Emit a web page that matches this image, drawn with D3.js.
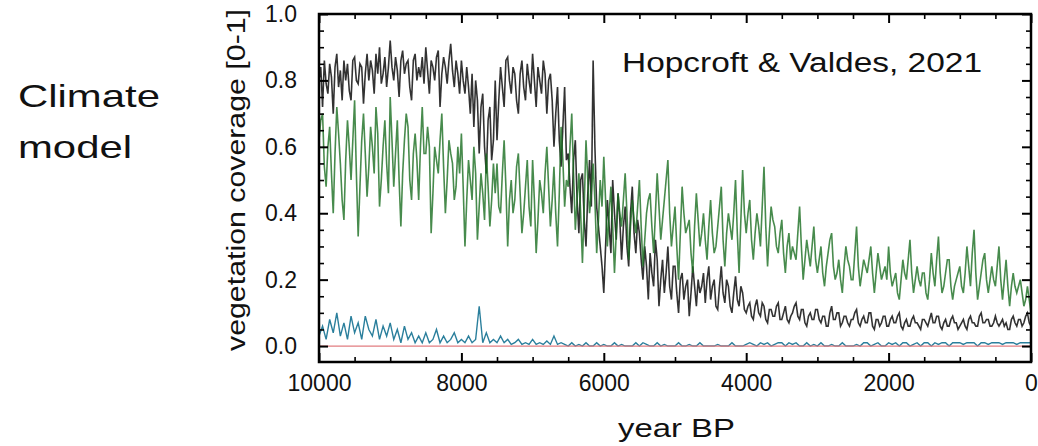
<!DOCTYPE html>
<html>
<head>
<meta charset="utf-8">
<script src="https://cdn.jsdelivr.net/npm/d3@7"></script>
<style>
  body { margin: 0; background: #fff; }
  svg { display: block; }
  text { font-family: "Liberation Sans", Arial, sans-serif; fill: #111; }
</style>
</head>
<body>
<svg width="1038" height="446"></svg>
<script>
var w = 1038;
var h = 446;

// black and green model output every 25 yr, blue every 50 yr (year BP, 10000 -> 0)
var yearsFine = d3.range(10000, -1, -25);
var yearsCoarse = d3.range(10000, -1, -50);

// black curve
var blackVals = [
  0.80, 0.84, 0.72, 0.86, 0.79, 0.76, 0.85, 0.81, 0.70, 0.84, 0.88, 0.78, 0.83, 0.74, 0.86, 0.80, 0.85, 0.77, 0.74, 0.86,
  0.87, 0.80, 0.79, 0.85, 0.84, 0.73, 0.82, 0.88, 0.80, 0.86, 0.83, 0.76, 0.88, 0.82, 0.90, 0.79, 0.82, 0.87, 0.78, 0.84,
  0.92, 0.84, 0.80, 0.87, 0.83, 0.75, 0.86, 0.89, 0.82, 0.85, 0.86, 0.78, 0.74, 0.86, 0.88, 0.80, 0.84, 0.81, 0.87, 0.79,
  0.90, 0.83, 0.76, 0.86, 0.84, 0.80, 0.87, 0.89, 0.72, 0.82, 0.87, 0.84, 0.79, 0.86, 0.91, 0.83, 0.78, 0.86, 0.82, 0.76,
  0.86, 0.80, 0.76, 0.84, 0.78, 0.70, 0.82, 0.66, 0.80, 0.74, 0.58, 0.72, 0.76, 0.60, 0.52, 0.68, 0.72, 0.56, 0.62, 0.80,
  0.62, 0.74, 0.84, 0.78, 0.72, 0.86, 0.87, 0.80, 0.76, 0.84, 0.82, 0.74, 0.70, 0.82, 0.86, 0.78, 0.74, 0.85, 0.80, 0.76,
  0.88, 0.80, 0.72, 0.84, 0.80, 0.76, 0.86, 0.82, 0.70, 0.80, 0.82, 0.74, 0.60, 0.70, 0.78, 0.62, 0.54, 0.66, 0.78, 0.56,
  0.58, 0.48, 0.40, 0.56, 0.62, 0.44, 0.34, 0.50, 0.52, 0.38, 0.30, 0.46, 0.56, 0.42, 0.86, 0.60, 0.42, 0.36, 0.30, 0.24,
  0.16, 0.30, 0.44, 0.36, 0.28, 0.50, 0.40, 0.32, 0.46, 0.38, 0.26, 0.36, 0.42, 0.30, 0.24, 0.40, 0.48, 0.34, 0.28, 0.38,
  0.34, 0.26, 0.20, 0.30, 0.24, 0.14, 0.28, 0.22, 0.18, 0.32, 0.26, 0.12, 0.20, 0.26, 0.16, 0.22, 0.30, 0.18, 0.14, 0.24,
  0.24, 0.16, 0.10, 0.20, 0.22, 0.14, 0.18, 0.20, 0.09, 0.16, 0.24, 0.18, 0.12, 0.20, 0.16, 0.18, 0.22, 0.13, 0.20, 0.24,
  0.14, 0.18, 0.20, 0.12, 0.11, 0.18, 0.24, 0.16, 0.13, 0.20, 0.18, 0.12, 0.10, 0.16, 0.21, 0.14, 0.12, 0.18, 0.16, 0.11,
  0.10, 0.12, 0.13, 0.09, 0.08, 0.12, 0.14, 0.10, 0.09, 0.13, 0.12, 0.08, 0.07, 0.11, 0.11, 0.09, 0.09, 0.12, 0.13, 0.08,
  0.08, 0.10, 0.12, 0.08, 0.07, 0.09, 0.10, 0.12, 0.13, 0.09, 0.08, 0.11, 0.11, 0.07, 0.06, 0.09, 0.10, 0.08, 0.08, 0.11,
  0.11, 0.08, 0.07, 0.09, 0.09, 0.06, 0.06, 0.10, 0.12, 0.08, 0.08, 0.10, 0.10, 0.06, 0.07, 0.09, 0.09, 0.07, 0.06, 0.08,
  0.08, 0.10, 0.11, 0.07, 0.06, 0.08, 0.09, 0.07, 0.07, 0.10, 0.10, 0.06, 0.05, 0.08, 0.08, 0.06, 0.07, 0.09, 0.09, 0.06,
  0.06, 0.08, 0.09, 0.07, 0.07, 0.09, 0.10, 0.06, 0.05, 0.07, 0.08, 0.06, 0.06, 0.08, 0.09, 0.07, 0.07, 0.06, 0.05, 0.08,
  0.08, 0.07, 0.06, 0.08, 0.10, 0.07, 0.07, 0.09, 0.09, 0.06, 0.05, 0.07, 0.08, 0.06, 0.06, 0.08, 0.09, 0.07, 0.07, 0.05,
  0.06, 0.07, 0.08, 0.06, 0.05, 0.08, 0.09, 0.07, 0.07, 0.06, 0.06, 0.09, 0.10, 0.07, 0.07, 0.08, 0.08, 0.06, 0.06, 0.07,
  0.09, 0.07, 0.06, 0.07, 0.08, 0.06, 0.07, 0.05, 0.05, 0.08, 0.09, 0.07, 0.06, 0.08, 0.08, 0.06, 0.07, 0.09, 0.10, 0.07,
  0.06
];

// green curve
var greenVals = [
  0.62, 0.68, 0.70, 0.54, 0.48, 0.60, 0.66, 0.52, 0.40, 0.58, 0.72, 0.64, 0.55, 0.44, 0.38, 0.56, 0.68, 0.60, 0.50, 0.62,
  0.74, 0.52, 0.33, 0.48, 0.62, 0.70, 0.58, 0.45, 0.54, 0.66, 0.60, 0.52, 0.72, 0.64, 0.42, 0.50, 0.60, 0.68, 0.55, 0.46,
  0.75, 0.62, 0.48, 0.58, 0.68, 0.50, 0.36, 0.52, 0.62, 0.70, 0.66, 0.50, 0.44, 0.58, 0.64, 0.56, 0.44, 0.60, 0.72, 0.58,
  0.58, 0.66, 0.60, 0.34, 0.46, 0.60, 0.56, 0.52, 0.62, 0.70, 0.54, 0.40, 0.50, 0.62, 0.58, 0.55, 0.44, 0.48, 0.60, 0.52,
  0.64, 0.48, 0.30, 0.44, 0.56, 0.50, 0.44, 0.60, 0.52, 0.32, 0.42, 0.52, 0.46, 0.38, 0.58, 0.48, 0.36, 0.44, 0.55, 0.46,
  0.55, 0.42, 0.40, 0.52, 0.62, 0.48, 0.30, 0.44, 0.50, 0.40, 0.44, 0.54, 0.58, 0.46, 0.34, 0.40, 0.48, 0.56, 0.42, 0.36,
  0.56, 0.44, 0.28, 0.38, 0.50, 0.46, 0.40, 0.52, 0.60, 0.48, 0.36, 0.44, 0.54, 0.40, 0.30, 0.46, 0.66, 0.56, 0.42, 0.50,
  0.48, 0.60, 0.70, 0.52, 0.35, 0.44, 0.52, 0.40, 0.25, 0.42, 0.62, 0.50, 0.40, 0.46, 0.55, 0.44, 0.28, 0.38, 0.50, 0.42,
  0.57, 0.44, 0.30, 0.40, 0.48, 0.36, 0.22, 0.34, 0.46, 0.40, 0.36, 0.44, 0.52, 0.40, 0.26, 0.36, 0.44, 0.38, 0.34, 0.42,
  0.50, 0.36, 0.24, 0.32, 0.40, 0.44, 0.46, 0.36, 0.28, 0.40, 0.52, 0.42, 0.32, 0.38, 0.44, 0.50, 0.56, 0.40, 0.30, 0.36,
  0.42, 0.30, 0.20, 0.34, 0.48, 0.40, 0.34, 0.36, 0.38, 0.28, 0.22, 0.36, 0.46, 0.38, 0.30, 0.34, 0.40, 0.32, 0.26, 0.36,
  0.44, 0.34, 0.28, 0.30, 0.36, 0.42, 0.48, 0.32, 0.24, 0.34, 0.40, 0.36, 0.32, 0.40, 0.50, 0.34, 0.22, 0.38, 0.53, 0.40,
  0.34, 0.40, 0.44, 0.32, 0.26, 0.34, 0.40, 0.36, 0.30, 0.42, 0.54, 0.36, 0.24, 0.34, 0.42, 0.38, 0.36, 0.30, 0.28, 0.34,
  0.38, 0.28, 0.22, 0.30, 0.34, 0.26, 0.30, 0.28, 0.26, 0.34, 0.42, 0.30, 0.20, 0.26, 0.32, 0.28, 0.24, 0.30, 0.36, 0.26,
  0.22, 0.26, 0.30, 0.22, 0.18, 0.24, 0.28, 0.32, 0.34, 0.24, 0.20, 0.22, 0.26, 0.20, 0.16, 0.24, 0.30, 0.26, 0.24, 0.20,
  0.20, 0.28, 0.36, 0.24, 0.18, 0.22, 0.26, 0.24, 0.22, 0.26, 0.30, 0.22, 0.16, 0.22, 0.28, 0.24, 0.20, 0.22, 0.24, 0.20,
  0.30, 0.22, 0.18, 0.20, 0.22, 0.16, 0.14, 0.20, 0.26, 0.22, 0.20, 0.26, 0.32, 0.22, 0.16, 0.20, 0.24, 0.20, 0.18, 0.22,
  0.22, 0.16, 0.14, 0.20, 0.28, 0.22, 0.18, 0.26, 0.33, 0.22, 0.16, 0.18, 0.22, 0.26, 0.26, 0.18, 0.14, 0.18, 0.20, 0.22,
  0.24, 0.18, 0.16, 0.22, 0.30, 0.24, 0.18, 0.28, 0.35, 0.22, 0.14, 0.18, 0.22, 0.26, 0.28, 0.20, 0.16, 0.20, 0.24, 0.20,
  0.18, 0.24, 0.30, 0.20, 0.14, 0.20, 0.26, 0.18, 0.12, 0.18, 0.22, 0.18, 0.16, 0.18, 0.20, 0.16, 0.12, 0.14, 0.18, 0.14,
  0.10
];

// blue curve
var blueVals = [
  0.03, 0.06, 0.02, 0.08, 0.04, 0.10, 0.03, 0.07, 0.02, 0.09,
  0.04, 0.07, 0.02, 0.09, 0.05, 0.03, 0.08, 0.02, 0.06, 0.03,
  0.07, 0.02, 0.05, 0.01, 0.06, 0.02, 0.04, 0.01, 0.03, 0.01,
  0.04, 0.01, 0.02, 0.05, 0.01, 0.03, 0.01, 0.02, 0.04, 0.01,
  0.02, 0.01, 0.03, 0.01, 0.02, 0.12, 0.01, 0.04, 0.01, 0.02,
  0.01, 0.03, 0.01, 0.02, 0.005, 0.01, 0.02, 0.005, 0.01, 0.005,
  0.02, 0.005, 0.01, 0.005, 0.015, 0.005, 0.03, 0.005, 0.01, 0.005,
  0, 0.01, 0, 0.005, 0, 0.01, 0, 0, 0.01, 0,
  0.005, 0, 0, 0.01, 0, 0.005, 0, 0, 0, 0.01,
  0, 0.01, 0.005, 0, 0, 0.01, 0, 0.005, 0, 0,
  0, 0.01, 0, 0, 0.005, 0, 0, 0.01, 0, 0,
  0, 0, 0.005, 0, 0, 0, 0.01, 0, 0, 0,
  0.005, 0.01, 0.005, 0, 0.01, 0.005, 0.01, 0, 0.005, 0.01,
  0.01, 0, 0.01, 0.005, 0.01, 0, 0, 0.01, 0, 0.005,
  0, 0.01, 0, 0, 0.005, 0, 0, 0.01, 0, 0,
  0, 0.005, 0, 0.01, 0.01, 0, 0.005, 0.01, 0, 0,
  0.01, 0.005, 0.01, 0, 0.01, 0.01, 0, 0.005, 0.01, 0,
  0.01, 0.01, 0, 0.01, 0.005, 0.01, 0.01, 0, 0.01, 0.01,
  0.01, 0.005, 0.01, 0.01, 0.01, 0, 0.01, 0.01, 0.005, 0.01,
  0.01, 0.01, 0.005, 0.01, 0.01, 0.01, 0.005, 0.01, 0.01, 0.01,
  0.01
];

// red reference curve (zero everywhere)
var redVals = yearsCoarse.map(function() { return 0; });

var xMajor = [10000, 8000, 6000, 4000, 2000, 0];
var yMajor = [0, 0.2, 0.4, 0.6, 0.8, 1.0];

var svg = d3.select("svg")
    .attr("viewBox", "0 0 " + w + " " + h);

var x = d3.scaleLinear().domain([10000, 0]).range([319, 1031]);
var y = d3.scaleLinear().domain([-0.048, 1]).range([362, 14]);

var line = d3.line()
    .x(function(d) { return x(d[0]); })
    .y(function(d) { return y(d[1]); });

function pairs(yrs, vals) {
    return yrs.map(function(yr, i) { return [yr, vals[i]]; });
}

// the source figure is a soft, scanned-looking image
svg.append("defs").append("filter")
    .attr("id", "soft")
    .append("feGaussianBlur")
    .attr("stdDeviation", 0.4);

var plot = svg.append("g").attr("filter", "url(#soft)");

plot.append("path")
    .datum(pairs(yearsFine, blackVals))
    .attr("d", line)
    .attr("fill", "none")
    .attr("stroke", "#111")
    .attr("stroke-opacity", 0.85)
    .attr("stroke-width", 1.6);

plot.append("path")
    .datum(pairs(yearsFine, greenVals))
    .attr("d", line)
    .attr("fill", "none")
    .attr("stroke", "#1b6e21")
    .attr("stroke-opacity", 0.8)
    .attr("stroke-width", 1.6);

plot.append("path")
    .datum(pairs(yearsCoarse, blueVals))
    .attr("d", line)
    .attr("fill", "none")
    .attr("stroke", "#2b7f9c")
    .attr("stroke-width", 1.4);

plot.append("path")
    .datum(pairs(yearsCoarse, redVals))
    .attr("d", line)
    .attr("fill", "none")
    .attr("stroke", "#e27c80")
    .attr("stroke-width", 1.2);

// frame
svg.append("rect")
    .attr("x", x(10000))
    .attr("y", y(1))
    .attr("width", x(0) - x(10000))
    .attr("height", y(-0.048) - y(1))
    .attr("fill", "none")
    .attr("stroke", "#000")
    .attr("stroke-width", 2.5);

var xMinor = d3.range(0, 10001, 500).filter(function(v) { return xMajor.indexOf(v) < 0; });
var yMinor = d3.range(1, 20).map(function(i) { return i * 0.05; })
    .filter(function(v) { return Math.abs(v * 5 - Math.round(v * 5)) > 1e-6; });

function styleAxis(g, width) {
    g.select(".domain").remove();
    g.selectAll("line").attr("stroke", "#000").attr("stroke-width", width);
    g.selectAll("text").style("font-size", "23px").attr("fill", "#111");
}

// bottom
svg.append("g").attr("transform", "translate(0," + y(-0.048) + ")")
    .call(d3.axisBottom(x).tickValues(xMajor).tickSize(-9).tickPadding(13).tickFormat(d3.format("d")))
    .call(styleAxis, 2);
svg.append("g").attr("transform", "translate(0," + y(-0.048) + ")")
    .call(d3.axisBottom(x).tickValues(xMinor).tickSize(-5).tickFormat(""))
    .call(styleAxis, 1.6);
// top
svg.append("g").attr("transform", "translate(0," + y(1) + ")")
    .call(d3.axisTop(x).tickValues(xMajor).tickSize(-9).tickFormat(""))
    .call(styleAxis, 2);
svg.append("g").attr("transform", "translate(0," + y(1) + ")")
    .call(d3.axisTop(x).tickValues(xMinor).tickSize(-5).tickFormat(""))
    .call(styleAxis, 1.6);
// left
svg.append("g").attr("transform", "translate(" + x(10000) + ",0)")
    .call(d3.axisLeft(y).tickValues(yMajor).tickSize(-9).tickPadding(22).tickFormat(d3.format(".1f")))
    .call(styleAxis, 2);
svg.append("g").attr("transform", "translate(" + x(10000) + ",0)")
    .call(d3.axisLeft(y).tickValues(yMinor).tickSize(-5).tickFormat(""))
    .call(styleAxis, 1.6);
// right
svg.append("g").attr("transform", "translate(" + x(0) + ",0)")
    .call(d3.axisRight(y).tickValues(yMajor).tickSize(-9).tickFormat(""))
    .call(styleAxis, 2);
svg.append("g").attr("transform", "translate(" + x(0) + ",0)")
    .call(d3.axisRight(y).tickValues(yMinor).tickSize(-5).tickFormat(""))
    .call(styleAxis, 1.6);

// axis titles
svg.append("text")
    .attr("transform", "translate(245,180) rotate(-90)")
    .attr("text-anchor", "middle")
    .attr("textLength", 342)
    .attr("lengthAdjust", "spacingAndGlyphs")
    .style("font-size", "26px")
    .text("vegetation coverage [0-1]");

svg.append("text")
    .attr("x", 618)
    .attr("y", 437)
    .attr("textLength", 117)
    .attr("lengthAdjust", "spacingAndGlyphs")
    .style("font-size", "26px")
    .text("year BP");

// annotation in the plot
svg.append("text")
    .attr("x", 622)
    .attr("y", 72)
    .attr("textLength", 360)
    .attr("lengthAdjust", "spacingAndGlyphs")
    .style("font-size", "27px")
    .text("Hopcroft & Valdes, 2021");

// side caption
svg.append("text")
    .attr("x", 18)
    .attr("y", 107)
    .attr("textLength", 142)
    .attr("lengthAdjust", "spacingAndGlyphs")
    .style("font-size", "32px")
    .text("Climate");
svg.append("text")
    .attr("x", 18)
    .attr("y", 158)
    .attr("textLength", 114)
    .attr("lengthAdjust", "spacingAndGlyphs")
    .style("font-size", "32px")
    .text("model");
</script>
</body>
</html>
